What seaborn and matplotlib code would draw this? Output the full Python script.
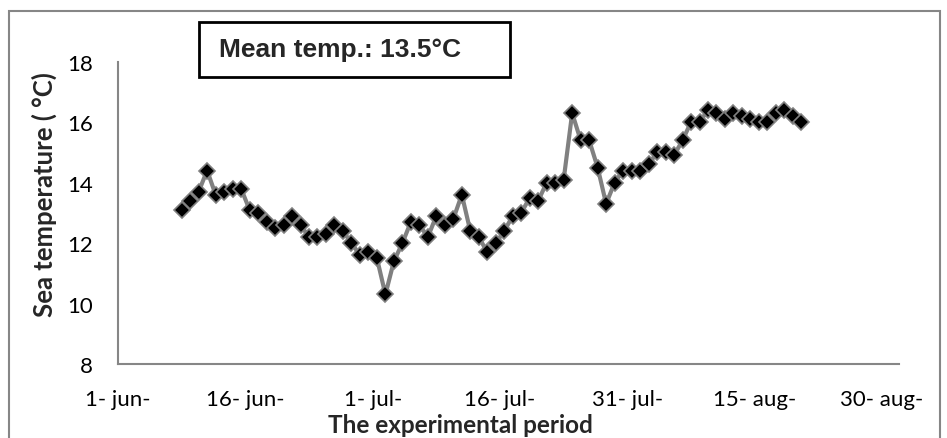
import pandas as pd
import matplotlib
matplotlib.use("Agg")
import matplotlib.pyplot as plt
from matplotlib.patches import Rectangle
import seaborn as sns

# Daily sea temperature (deg C), 8 jun - 20 aug
jun_days = [8, 9, 10, 11, 12, 13, 14, 15, 16, 17, 18, 19, 20, 21, 22, 23, 24, 25, 26, 27, 28, 29, 30]
jun_temp = [13.1, 13.4, 13.7, 14.4, 13.6, 13.7, 13.8, 13.8, 13.1, 13.0, 12.7, 12.5, 12.6, 12.9, 12.6,
            12.2, 12.2, 12.3, 12.6, 12.4, 12.0, 11.6, 11.7]
jul_days = [1, 2, 3, 4, 5, 6, 7, 8, 9, 10, 11, 12, 13, 14, 15, 16, 17, 18, 19, 20, 21, 22, 23, 24,
            25, 26, 27, 28, 29, 30, 31]
jul_temp = [11.5, 10.3, 11.4, 12.0, 12.7, 12.6, 12.2, 12.9, 12.6, 12.8, 13.6, 12.4, 12.2, 11.7, 12.0,
            12.4, 12.9, 13.0, 13.5, 13.4, 14.0, 14.0, 14.1, 16.3, 15.4, 15.4, 14.5, 13.3, 14.0, 14.4, 14.4]
aug_days = [1, 2, 3, 4, 5, 6, 7, 8, 9, 10, 11, 12, 13, 14, 15, 16, 17, 18, 19, 20]
aug_temp = [14.4, 14.6, 15.0, 15.0, 14.9, 15.4, 16.0, 16.0, 16.4, 16.3, 16.1, 16.3, 16.2, 16.1, 16.0,
            16.0, 16.3, 16.4, 16.2, 16.0]

tick_dates = ["2012-06-01", "2012-06-16", "2012-07-01", "2012-07-16", "2012-07-31", "2012-08-15", "2012-08-30"]
tick_labels = ["1- jun-", "16- jun-", "1- jul-", "16- jul-", "31- jul-", "15- aug-", "30- aug-"]
y_ticks = [8, 10, 12, 14, 16, 18]

dates = ([f"2012-06-{d:02d}" for d in jun_days] + [f"2012-07-{d:02d}" for d in jul_days]
         + [f"2012-08-{d:02d}" for d in aug_days])
df = pd.DataFrame({"date": pd.to_datetime(dates), "temp": jun_temp + jul_temp + aug_temp})
# Excel date axis puts each day in the middle of its slot
df["pos"] = df["date"] + pd.Timedelta(hours=12)

sns.set_style("white")
plt.rcParams["font.family"] = ["Lato", "DejaVu Sans"]

fig = plt.figure(figsize=(9.47, 4.39), dpi=100)
W, H = 947, 439
ax = fig.add_axes([118 / W, 1 - 365 / H, (899 - 118) / W, (365 - 62.7) / H])

sns.lineplot(data=df, x="pos", y="temp", ax=ax, color="#808080", linewidth=3,
             marker="D", markersize=8.5, markerfacecolor="black",
             markeredgecolor="#808080", markeredgewidth=1.2)

ax.set_xlim(pd.Timestamp("2012-06-01"), pd.Timestamp("2012-09-01"))
ax.set_ylim(8, 18)
ax.set_xticks(pd.to_datetime(tick_dates))
ax.set_xticklabels(tick_labels)
ax.set_yticks(y_ticks)

for s in ["top", "right"]:
    ax.spines[s].set_visible(False)
for s in ["left", "bottom"]:
    ax.spines[s].set_color("#868686")
    ax.spines[s].set_linewidth(1.5)

ax.tick_params(axis="both", which="major", direction="out", color="#868686", width=1.5,
               labelsize=16, labelcolor="black")
ax.tick_params(axis="x", length=6, pad=12)
ax.tick_params(axis="y", length=4, pad=14)

ax.set_xlabel("The experimental period", fontsize=17.5, fontweight="bold")
ax.set_ylabel("Sea temperature ( °C)", fontsize=18.5, fontweight="bold")
ax.xaxis.set_label_coords((460 - 118) / 781, -(426 - 365) / 302.3)
ax.xaxis.label.set_va("center")
ax.yaxis.set_label_coords(-(118 - 44) / 781, (365 - 195) / 302.3)
ax.yaxis.label.set_va("center")

# outer chart border (its bottom edge falls below the picture)
fig.patches.append(Rectangle((9 / W, -0.02), (940 - 9) / W, 1.02 - 12 / H,
                             transform=fig.transFigure, fill=False, edgecolor="#868686", linewidth=1.5))
# mean temperature box
fig.patches.append(Rectangle((199 / W, 1 - 78 / H), (510 - 199) / W, (78 - 23) / H,
                             transform=fig.transFigure, fill=False, edgecolor="black", linewidth=2))
fig.text(219 / W, 1 - 50.5 / H, "Mean temp.: 13.5°C", fontsize=19, fontweight="bold",
         family="Liberation Sans", va="center", ha="left")

fig.savefig("out.png", dpi=100)
